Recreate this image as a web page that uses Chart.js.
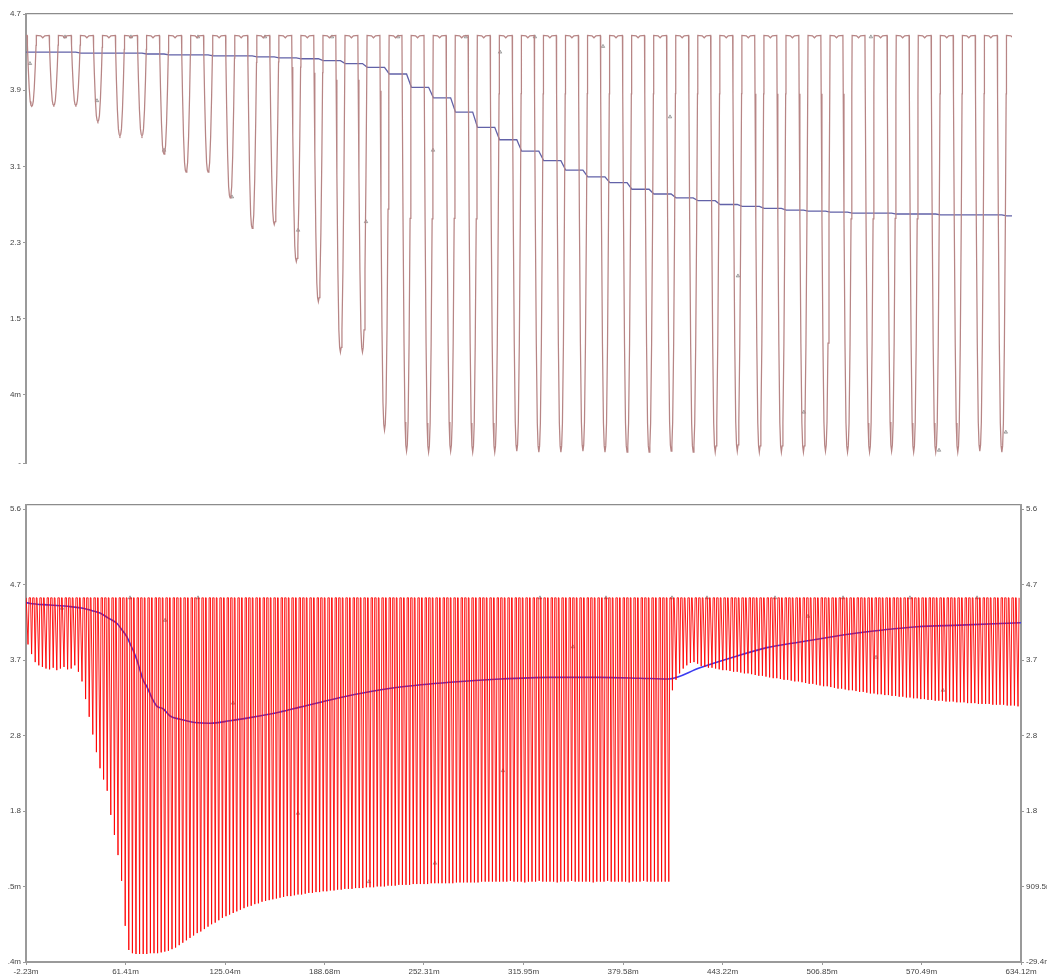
<!DOCTYPE html>
<html>
<head>
<meta charset="utf-8">
<script src="https://cdn.jsdelivr.net/npm/chart.js@4.4.0/dist/chart.umd.min.js"></script>
<style>
  body { margin: 0; background: #fff; }
  #topBox { position: absolute; left: 0; top: 0; width: 1047px; height: 476px; }
  #botBox { position: absolute; left: 0; top: 490px; width: 1047px; height: 486px; }
</style>
</head>
<body>
<div id="topBox"><canvas id="topChart"></canvas></div>
<div id="botBox"><canvas id="botChart"></canvas></div>
<script>
// ---- top panel data ----
const topXMax = 44.72;          // one x unit per cycle
const topFirstDip = 0.26;
const topDips = [3.73, 3.74, 3.74, 3.57, 3.42, 3.42, 3.23, 3.04, 3.04, 2.77, 2.45, 2.49, 2.10, 1.68, 1.15, 1.15, 0.33,
  0.11, 0.10, 0.11, 0.10, 0.10, 0.11, 0.10, 0.10, 0.11, 0.10, 0.10, 0.10, 0.11, 0.10,
  0.10, 0.11, 0.10, 0.10, 0.10, 0.11, 0.10, 0.10, 0.11, 0.10, 0.10, 0.10, 0.11, 0.10];
const topLevelStart = 4.30;
const topLevels = [4.30, 4.30, 4.29, 4.29, 4.29, 4.28, 4.27, 4.27, 4.26, 4.26, 4.25, 4.24, 4.23, 4.21, 4.18,
  4.14, 4.07, 3.93, 3.82, 3.67, 3.51, 3.38, 3.26, 3.16, 3.06, 2.99, 2.93, 2.86, 2.81, 2.77,
  2.74, 2.70, 2.68, 2.66, 2.64, 2.63, 2.62, 2.61, 2.61, 2.60, 2.60, 2.59, 2.59, 2.59, 2.58];
const topPlateau = [4.45, 4.47, 4.475];   // centre notch, shoulder, corner
const topYTicks = [4.7, 3.9, 3.1, 2.3, 1.5, 0.7, -0.014];
const topYLabels = ['4.7', '3.9', '3.1', '2.3', '1.5', '4m', '-'];
const topMarkX = [0.18, 1.77, 3.22, 4.76, 6.26, 7.80, 9.34, 10.84, 12.34, 13.88, 15.42, 16.88, 18.46, 19.95, 21.50, 23.08, 26.17, 29.21, 32.29, 35.28, 38.32, 41.41, 44.44];
const topMarkY = [4.18, 4.46, 3.79, 4.46, 3.27, 4.46, 2.78, 4.46, 2.43, 4.46, 2.52, 4.46, 3.27, 4.46, 4.30, 4.46, 4.36, 3.62, 1.95, 0.52, 4.46, 0.12, 0.31];

// ---- bottom panel data ----
const botXMin = -2.23, botXMax = 634.12;
const botFirstDip = -0.95;
const botPeriod = 2.3024;
const botPeak = 4.50;
const botDips = [
  3.92, 3.80, 3.70, 3.66, 3.64, 3.62, 3.61, 3.63, 3.60, 3.62, 3.64, 3.61, 3.62, 3.66,
  3.58, 3.46, 3.24, 3.02, 2.80, 2.58, 2.38, 2.24, 2.10, 1.80, 1.55, 1.30, 0.98, 0.42, 0.12, 0.08,
  0.07, 0.07, 0.07, 0.07, 0.08, 0.08, 0.08, 0.09, 0.10, 0.11, 0.13, 0.15,
  0.18, 0.21, 0.24, 0.27, 0.30, 0.33, 0.35, 0.38, 0.41, 0.44, 0.46, 0.49, 0.52, 0.54,
  0.56, 0.58, 0.60, 0.62, 0.64, 0.66, 0.67, 0.69, 0.70, 0.72, 0.73, 0.74, 0.75, 0.76,
  0.77, 0.78, 0.79, 0.79, 0.80, 0.81, 0.81, 0.82, 0.83, 0.83, 0.84, 0.84, 0.85, 0.85, 0.86, 0.86, 0.87, 0.87, 0.88, 0.88,
  0.88, 0.89, 0.89, 0.89, 0.90, 0.90, 0.90, 0.91, 0.91, 0.91, 0.92, 0.92, 0.92, 0.93,
  0.93, 0.93, 0.93, 0.94, 0.94, 0.94, 0.94, 0.94, 0.95, 0.95, 0.95, 0.95, 0.95, 0.95,
  0.95, 0.96, 0.96, 0.96, 0.96, 0.96, 0.96, 0.96, 0.97, 0.97, 0.97, 0.97, 0.97, 0.97,
  0.97, 0.97, 0.98, 0.97, 0.97, 0.97, 0.96, 0.97, 0.97, 0.97, 0.98, 0.97, 0.97, 0.97, 0.97, 0.96,
  0.97, 0.97, 0.97, 0.98, 0.97, 0.97, 0.97, 0.97, 0.97, 0.96, 0.97, 0.97, 0.97, 0.98, 0.97, 0.97,
  0.97, 0.97, 0.97, 0.96, 0.97, 0.97, 0.97, 0.98, 0.97, 0.97, 0.97, 0.97, 0.97, 0.97, 0.97,
  3.35, 3.48, 3.56, 3.62, 3.66, 3.69, 3.70, 3.68, 3.65,
  3.64, 3.63, 3.63, 3.62, 3.61, 3.60, 3.60, 3.59, 3.58, 3.58, 3.57, 3.56, 3.56, 3.55,
  3.54, 3.53, 3.53, 3.52, 3.51, 3.50, 3.50, 3.49, 3.48, 3.48, 3.47, 3.46, 3.46, 3.45,
  3.44, 3.43, 3.43, 3.42, 3.41, 3.40, 3.40, 3.39, 3.38, 3.37, 3.37, 3.36, 3.35,
  3.35, 3.34, 3.33, 3.33, 3.32, 3.31, 3.31, 3.30, 3.30, 3.29, 3.29, 3.28, 3.28, 3.27,
  3.27, 3.26, 3.26, 3.25, 3.25, 3.24, 3.24, 3.23, 3.23, 3.22, 3.22, 3.22, 3.21, 3.21,
  3.21, 3.20, 3.20, 3.20, 3.19, 3.19, 3.19, 3.18, 3.18, 3.18, 3.18, 3.17, 3.17, 3.17,
  3.17, 3.16, 3.16, 3.16, 3.15];
const botBlueX = [-2.23, 0.33, 13.12, 25.91, 34.22, 40.0, 45.1, 50.2, 56.0, 59.2, 62.4, 64.3, 66.2, 68.8, 70.7,
  72.6, 75.2, 78.4, 81.6, 85.4, 89.9, 96.3, 105.8, 115.4, 128.2, 141.0, 160.2, 173.0, 192.2, 211.4,
  237.0, 269.0, 300.9, 332.9, 364.9, 390.5, 408.4, 428.8, 449.9, 471.7, 492.8, 524.8, 545.9, 567.6, 595.1, 634.12];
const botBlueY = [4.44, 4.43, 4.41, 4.39, 4.37, 4.34, 4.31, 4.25, 4.18, 4.10, 4.01, 3.93, 3.85, 3.72, 3.60,
  3.48, 3.39, 3.25, 3.15, 3.12, 3.03, 2.99, 2.95, 2.94, 2.97, 3.01, 3.08, 3.14, 3.23, 3.31,
  3.39, 3.45, 3.49, 3.51, 3.51, 3.50, 3.49, 3.63, 3.76, 3.88, 3.95, 4.05, 4.10, 4.14, 4.16, 4.19];
const botYTicks = [-0.0294, 0.9095, 1.8484, 2.7873, 3.7262, 4.6651, 5.604];
const botYLabelsLeft = ['.4m', '.5m', '1.8', '2.8', '3.7', '4.7', '5.6'];
const botYLabelsRight = ['-29.4m', '909.5m', '1.8', '2.8', '3.7', '4.7', '5.6'];
const botXTicks = [-2.23, 61.41, 125.04, 188.68, 252.31, 315.95, 379.58, 443.22, 506.85, 570.49, 634.12];
const botXLabels = ['-2.23m', '61.41m', '125.04m', '188.68m', '252.31m', '315.95m', '379.58m', '443.22m', '506.85m', '570.49m', '634.12m'];
const botMarkX = [20.8, 64.3, 86.7, 107.8, 130.2, 171.7, 217.1, 259.3, 302.8, 326.5, 347.6, 368.7, 410.9, 433.3, 476.8, 497.9, 520.3, 541.4, 563.1, 584.2, 606.0];
const botMarkY = [4.37, 4.50, 4.22, 4.50, 3.19, 1.82, 0.97, 1.20, 2.35, 4.50, 3.89, 4.50, 4.50, 4.50, 4.50, 4.27, 4.50, 3.76, 4.50, 3.35, 4.50];

Chart.defaults.font.family = '"Liberation Sans", Arial, sans-serif';
Chart.defaults.font.size = 8;
Chart.defaults.color = '#444';

// build the top trace: each cycle is a flat top with a small notch and a narrow dip
const topWallDx = [0.209, 0.195, 0.16, 0.115, 0.07, 0.035];
const topWallF = [1.0, 0.86, 0.56, 0.26, 0.07, 0.015];
const topTrace = [];
topDips.forEach((d, k) => {
  const c = topFirstDip + k;
  const span = topPlateau[2] - d;
  topTrace.push({x: c - 0.5, y: topPlateau[0]});
  topTrace.push({x: c - 0.41, y: topPlateau[1]});
  topWallDx.forEach((dx, i) => topTrace.push({x: c - dx, y: d + topWallF[i] * span}));
  topTrace.push({x: c, y: d});
  for (let i = topWallDx.length - 1; i >= 0; i--) topTrace.push({x: c + topWallDx[i], y: d + topWallF[i] * span});
  topTrace.push({x: c + 0.41, y: topPlateau[1]});
});
topTrace.push({x: topFirstDip + topDips.length - 0.5, y: topPlateau[0]});

// level line: holds, then slides down over a short slope after every dip
const topLevelPts = [{x: 0, y: topLevelStart}];
let prevLevel = topLevelStart;
topLevels.forEach((v, k) => {
  const c = topFirstDip + k;
  topLevelPts.push({x: c, y: prevLevel});
  topLevelPts.push({x: c + 0.22, y: v});
  prevLevel = v;
});
topLevelPts.push({x: topXMax, y: prevLevel});

const axisGrey = '#9a9a9a';

const topChart = new Chart(document.getElementById('topChart'), {
  type: 'line',
  data: {
    datasets: [
      { data: topTrace, borderColor: '#b78585', borderWidth: 1.25, pointRadius: 0, tension: 0 },
      { data: topLevelPts, borderColor: '#6262a8', borderWidth: 1.3, pointRadius: 0, tension: 0 },
      { data: topMarkX.map((x, i) => ({x: x, y: topMarkY[i]})), showLine: false, pointStyle: 'triangle',
        pointRadius: 2, borderWidth: 0.8, pointBorderColor: 'rgba(110,110,110,0.7)', pointBackgroundColor: 'rgba(160,160,160,0.4)' }
    ]
  },
  options: {
    responsive: true,
    maintainAspectRatio: false,
    animation: false,
    parsing: false,
    layout: { padding: { top: 14, right: 35, bottom: 13, left: 0 } },
    plugins: { legend: { display: false }, tooltip: { enabled: false } },
    scales: {
      x: { type: 'linear', min: 0, max: topXMax, display: false },
      xTop: {
        type: 'linear', position: 'top', min: 0, max: topXMax,
        ticks: { display: false }, grid: { display: false, drawTicks: false },
        border: { color: '#8c8c8c', width: 1.2 },
        afterFit: s => { s.height = 0; }
      },
      y: {
        type: 'linear', min: -0.014, max: 4.7,
        afterBuildTicks: s => { s.ticks = topYTicks.map(v => ({value: v})); },
        afterFit: s => { s.width = 26; },
        ticks: { callback: (v, i) => topYLabels[i], padding: 2, color: '#444' },
        grid: { drawOnChartArea: false, tickLength: 3, color: axisGrey },
        border: { color: axisGrey, width: 2 }
      }
    }
  }
});

// build the bottom trace: dense narrow spikes from a flat top
const botTrace = [];
botDips.forEach((d, k) => {
  const c = botFirstDip + k * botPeriod;
  botTrace.push({x: c - 0.5 * botPeriod, y: botPeak});
  botTrace.push({x: c - 0.3 * botPeriod, y: botPeak});
  botTrace.push({x: c, y: d});
  botTrace.push({x: c + 0.3 * botPeriod, y: botPeak});
});
botTrace.push({x: botFirstDip + botDips.length * botPeriod - 0.5 * botPeriod, y: botPeak});

const botChart = new Chart(document.getElementById('botChart'), {
  type: 'line',
  data: {
    datasets: [
      { data: botTrace, borderColor: 'rgba(255,0,0,0.9)', borderWidth: 1, pointRadius: 0, tension: 0 },
      { data: botBlueX.map((x, i) => ({x: x, y: botBlueY[i]})), borderColor: 'rgb(60,60,240)', borderWidth: 1.6,
        pointRadius: 0, cubicInterpolationMode: 'monotone' },
      { data: botMarkX.map((x, i) => ({x: x, y: botMarkY[i]})), showLine: false, pointStyle: 'triangle',
        pointRadius: 2, borderWidth: 0.8, pointBorderColor: 'rgba(110,110,110,0.7)', pointBackgroundColor: 'rgba(160,160,160,0.4)' }
    ]
  },
  options: {
    responsive: true,
    maintainAspectRatio: false,
    animation: false,
    parsing: false,
    layout: { padding: { top: 15, right: 0, bottom: 0, left: 0 } },
    plugins: { legend: { display: false }, tooltip: { enabled: false } },
    scales: {
      x: {
        type: 'linear', min: botXMin, max: botXMax,
        afterBuildTicks: s => { s.ticks = botXTicks.map(v => ({value: v})); },
        afterFit: s => { s.height = 14; },
        ticks: { callback: (v, i) => botXLabels[i], maxRotation: 0, autoSkip: false, padding: 2, color: '#444' },
        grid: { drawOnChartArea: false, tickLength: 3, color: axisGrey },
        border: { color: axisGrey, width: 2 }
      },
      xTop: {
        type: 'linear', position: 'top', min: botXMin, max: botXMax,
        ticks: { display: false }, grid: { display: false, drawTicks: false },
        border: { color: '#8c8c8c', width: 1.2 },
        afterFit: s => { s.height = 0; }
      },
      y: {
        type: 'linear', min: -0.0294, max: 5.654,
        afterBuildTicks: s => { s.ticks = botYTicks.map(v => ({value: v})); },
        afterFit: s => { s.width = 26; },
        ticks: { callback: (v, i) => botYLabelsLeft[i], padding: 2, color: '#444' },
        grid: { drawOnChartArea: false, tickLength: 3, color: axisGrey },
        border: { color: axisGrey, width: 2 }
      },
      yRight: {
        type: 'linear', position: 'right', min: -0.0294, max: 5.654,
        afterBuildTicks: s => { s.ticks = botYTicks.map(v => ({value: v})); },
        afterFit: s => { s.width = 26; },
        ticks: { callback: (v, i) => botYLabelsRight[i], padding: 2, color: '#444' },
        grid: { drawOnChartArea: false, tickLength: 3, color: axisGrey },
        border: { color: axisGrey, width: 2 }
      }
    }
  }
});
</script>
</body>
</html>
